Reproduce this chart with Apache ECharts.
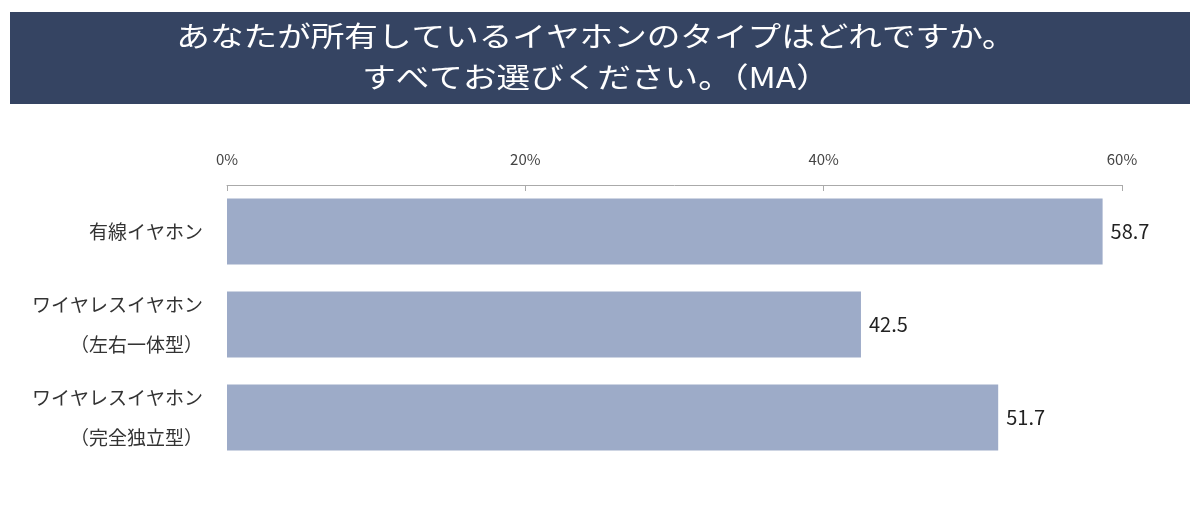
<!DOCTYPE html>
<html>
<head>
<meta charset="utf-8">
<script src="https://cdn.jsdelivr.net/npm/echarts@6/dist/echarts.min.js"></script>
<style>
html,body{margin:0;padding:0;background:#fff;}
#c{width:1200px;height:515px;}
</style>
</head>
<body>
<div id="c"></div>
<script>
const titleLines = ['あなたが所有しているイヤホンのタイプはどれですか。', 'すべてお選びください。（MA）'];
const categories = ['有線イヤホン', 'ワイヤレスイヤホン\n（左右一体型）', 'ワイヤレスイヤホン\n（完全独立型）'];
const values = [58.7, 42.5, 51.7];
const axisMin = 0, axisMax = 60, axisInterval = 20;

const font = '"Noto Sans CJK JP", "Noto Sans", sans-serif';
const chart = echarts.init(document.getElementById('c'));
chart.setOption({
  animation: false,
  backgroundColor: '#fff',
  graphic: [{
    type: 'rect', z: 0,
    shape: {x: 10, y: 12, width: 1180, height: 92},
    style: {fill: '#354462'}
  }, {
    type: 'text', z: 1, x: 596, y: 16, scaleX: 1.2,
    style: {
      text: titleLines.join('\n'), fill: '#fff',
      font: '28px "Noto Sans CJK JP", sans-serif',
      lineHeight: 41, align: 'center', verticalAlign: 'top'
    }
  }],
  grid: {left: 227, right: 78, top: 185, height: 279},
  xAxis: {
    type: 'value', position: 'top', min: axisMin, max: axisMax, interval: axisInterval,
    axisLine: {show: true, lineStyle: {color: '#aaa', width: 1}},
    axisTick: {show: true, inside: true, length: 6, lineStyle: {color: '#aaa'}},
    splitLine: {show: false},
    axisLabel: {formatter: '{value}%', margin: 18, color: '#444', fontSize: 15, fontFamily: font}
  },
  yAxis: {
    type: 'category', data: categories, inverse: true,
    axisLine: {show: false}, axisTick: {show: false},
    axisLabel: {margin: 24, color: '#333', fontSize: 19, lineHeight: 40, align: 'right', fontFamily: font}
  },
  series: [{
    type: 'bar', data: values, barWidth: 66,
    itemStyle: {color: '#9dabc8'},
    label: {show: true, position: 'right', distance: 8, color: '#222', fontSize: 20, fontFamily: font,
      formatter: p => p.value.toFixed(1)}
  }]
});
</script>
</body>
</html>
